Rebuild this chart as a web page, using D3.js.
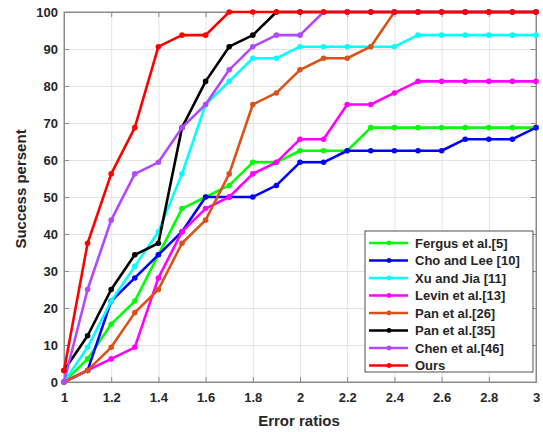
<!DOCTYPE html>
<html>
<head>
<meta charset="utf-8">
<script src="https://cdn.jsdelivr.net/npm/d3@7"></script>
<style>
  body { margin: 0; background: #fff; }
  text { font-family: "Liberation Sans", Arial, sans-serif; }
  .grid line { stroke: #e3e3e3; }
  .grid path { stroke: none; }
</style>
</head>
<body>
<svg id="chart" width="543" height="432"></svg>
<script>
// error ratios on the x axis
var ratios = [1, 1.1, 1.2, 1.3, 1.4, 1.5, 1.6, 1.7, 1.8, 1.9, 2, 2.1, 2.2, 2.3, 2.4, 2.5, 2.6, 2.7, 2.8, 2.9, 3];

var fergus  = [0, 6.25, 15.625, 21.875, 34.375, 46.875, 50, 53.125, 59.375, 59.375, 62.5, 62.5, 62.5, 68.75, 68.75, 68.75, 68.75, 68.75, 68.75, 68.75, 68.75];
var choLee  = [0, 3.125, 21.875, 28.125, 34.375, 40.625, 50, 50, 50, 53.125, 59.375, 59.375, 62.5, 62.5, 62.5, 62.5, 62.5, 65.625, 65.625, 65.625, 68.75];
var xuJia   = [0, 9.375, 21.875, 31.25, 40.625, 56.25, 75, 81.25, 87.5, 87.5, 90.625, 90.625, 90.625, 90.625, 90.625, 93.75, 93.75, 93.75, 93.75, 93.75, 93.75];
var levin   = [0, 3.125, 6.25, 9.375, 28.125, 40.625, 46.875, 50, 56.25, 59.375, 65.625, 65.625, 75, 75, 78.125, 81.25, 81.25, 81.25, 81.25, 81.25, 81.25];
var pan26   = [0, 3.125, 9.375, 18.75, 25, 37.5, 43.75, 56.25, 75, 78.125, 84.375, 87.5, 87.5, 90.625, 100, 100, 100, 100, 100, 100, 100];
var pan35   = [3.125, 12.5, 25, 34.375, 37.5, 68.75, 81.25, 90.625, 93.75, 100, 100, 100, 100, 100, 100, 100, 100, 100, 100, 100, 100];
var chen    = [0, 25, 43.75, 56.25, 59.375, 68.75, 75, 84.375, 90.625, 93.75, 93.75, 100, 100, 100, 100, 100, 100, 100, 100, 100, 100];
var ours    = [3.125, 37.5, 56.25, 68.75, 90.625, 93.75, 93.75, 100, 100, 100, 100, 100, 100, 100, 100, 100, 100, 100, 100, 100, 100];

var names = ["Fergus et al.[5]", "Cho and Lee [10]", "Xu and Jia [11]", "Levin et al.[13]",
             "Pan et al.[26]", "Pan et al.[35]", "Chen et al.[46]", "Ours"];
var colors = ["#00ff00", "#0000ff", "#00ffff", "#ff00ff", "#d95319", "#000000", "#b149ff", "#ff0000"];

var xTicks = [1, 1.2, 1.4, 1.6, 1.8, 2, 2.2, 2.4, 2.6, 2.8, 3];
var yTicks = [0, 10, 20, 30, 40, 50, 60, 70, 80, 90, 100];

var series = [fergus, choLee, xuJia, levin, pan26, pan35, chen, ours].map(function (vals, i) {
  return { name: names[i], color: colors[i], values: vals };
});

var svg = d3.select("#chart"),
  margin = {top: 12, right: 7, bottom: 50, left: 64},
  width = +svg.attr("width") - margin.left - margin.right,
  height = +svg.attr("height") - margin.top - margin.bottom,
  g = svg.append("g").attr("transform", "translate(" + margin.left + "," + margin.top + ")");

var x = d3.scaleLinear().domain([1, 3]).range([0, width]);
var y = d3.scaleLinear().domain([0, 100]).range([height, 0]);

// gridlines
g.append("g")
  .attr("class", "grid")
  .call(d3.axisLeft(y).tickValues(yTicks).tickSize(-width).tickFormat(""));
g.append("g")
  .attr("class", "grid")
  .attr("transform", "translate(0," + height + ")")
  .call(d3.axisBottom(x).tickValues(xTicks).tickSize(-height).tickFormat(""));

// box
g.append("rect")
  .attr("width", width).attr("height", height)
  .attr("fill", "none").attr("stroke", "#8a8a8a").attr("stroke-width", 1);

var xAxis = g.append("g")
  .attr("transform", "translate(0," + height + ")")
  .call(d3.axisBottom(x).tickValues(xTicks).tickSize(-5).tickPadding(11).tickFormat(d3.format("")));
var yAxis = g.append("g")
  .call(d3.axisLeft(y).tickValues(yTicks).tickSize(-5).tickPadding(6));
// inner ticks on top and right
g.append("g")
  .call(d3.axisTop(x).tickValues(xTicks).tickSize(-5).tickFormat(""));
g.append("g")
  .attr("transform", "translate(" + width + ",0)")
  .call(d3.axisRight(y).tickValues(yTicks).tickSize(-5).tickFormat(""));

g.selectAll(".domain").attr("stroke", "#8a8a8a");
g.selectAll(".tick line").filter(function () { return !this.parentNode.parentNode.classList.contains("grid"); })
  .attr("stroke", "#8a8a8a");
[xAxis, yAxis].forEach(function (a) {
  a.selectAll("text")
    .attr("fill", "#262626")
    .style("font-size", "13px")
    .style("font-weight", "bold");
});

var line = d3.line()
  .x(function (d, i) { return x(ratios[i]); })
  .y(function (d) { return y(d); });

var lines = g.selectAll(".series")
  .data(series)
  .enter().append("g")
  .attr("class", "series");

lines.append("path")
  .attr("d", function (d) { return line(d.values); })
  .attr("fill", "none")
  .attr("stroke", function (d) { return d.color; })
  .attr("stroke-width", 2.6)
  .attr("stroke-linejoin", "round");

lines.selectAll("circle")
  .data(function (d) { return d.values.map(function (v, i) { return {v: v, i: i, c: d.color}; }); })
  .enter().append("circle")
  .attr("cx", function (d) { return x(ratios[d.i]); })
  .attr("cy", function (d) { return y(d.v); })
  .attr("r", 2.8)
  .attr("fill", function (d) { return d.c; });

// axis titles
svg.append("text")
  .attr("x", 299)
  .attr("y", 426)
  .attr("text-anchor", "middle")
  .style("font-size", "15px")
  .style("font-weight", "bold")
  .attr("fill", "#262626")
  .text("Error ratios");

svg.append("text")
  .attr("transform", "translate(26,189) rotate(-90)")
  .attr("text-anchor", "middle")
  .style("font-size", "15px")
  .style("font-weight", "bold")
  .attr("fill", "#262626")
  .text("Success persent");

// legend
var legend = svg.append("g").attr("transform", "translate(365,231)");
legend.append("rect")
  .attr("width", 168).attr("height", 141)
  .attr("fill", "#fff").attr("stroke", "#262626").attr("stroke-width", 0.8);

var items = legend.selectAll(".item")
  .data(series)
  .enter().append("g")
  .attr("transform", function (d, i) { return "translate(0," + (12 + i * 17.5) + ")"; });

items.append("line")
  .attr("x1", 4).attr("x2", 43)
  .attr("stroke", function (d) { return d.color; })
  .attr("stroke-width", 2.6);
items.append("circle")
  .attr("cx", 24).attr("r", 2.4)
  .attr("fill", function (d) { return d.color; });
items.append("text")
  .attr("x", 50).attr("dy", "0.35em")
  .style("font-size", "13px")
  .style("font-weight", "bold")
  .attr("fill", "#262626")
  .text(function (d) { return d.name; });
</script>
</body>
</html>
